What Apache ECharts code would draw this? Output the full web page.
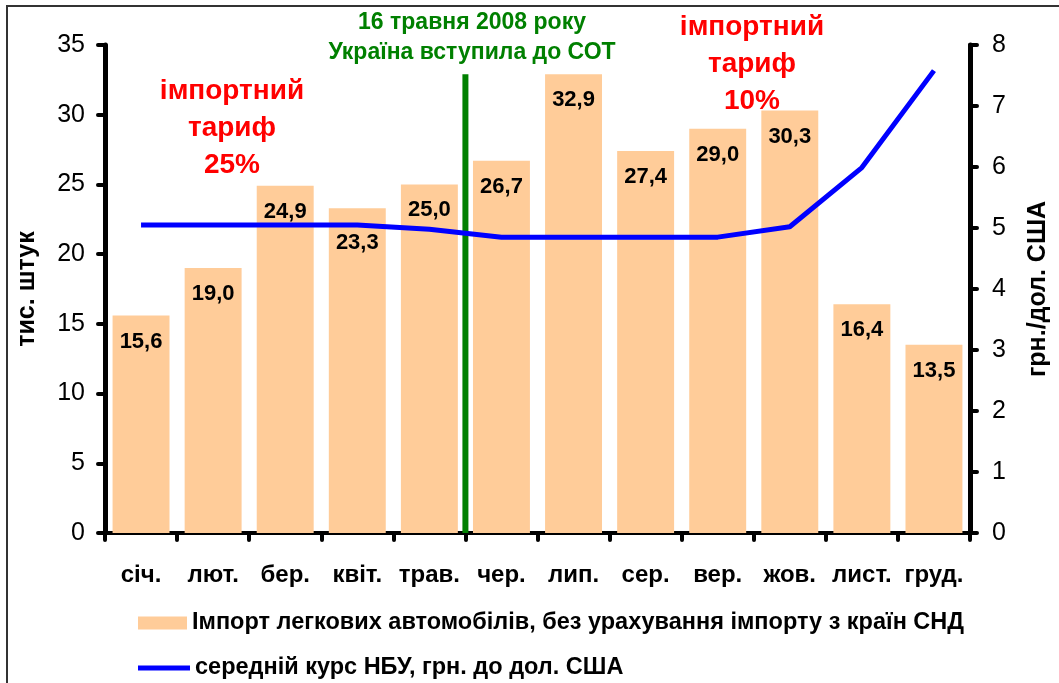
<!DOCTYPE html>
<html>
<head>
<meta charset="utf-8">
<script src="https://cdn.jsdelivr.net/npm/echarts@6/dist/echarts.min.js"></script>
<style>
  html, body { margin: 0; padding: 0; background: #fff; }
  #chart { width: 1059px; height: 683px; }
</style>
</head>
<body>
<div id="chart"></div>
<script>
// місяці 2008 року
var months = ['січ.', 'лют.', 'бер.', 'квіт.', 'трав.', 'чер.', 'лип.', 'сер.', 'вер.', 'жов.', 'лист.', 'груд.'];
// імпорт легкових автомобілів, тис. штук
var importCars = [15.6, 19.0, 24.9, 23.3, 25.0, 26.7, 32.9, 27.4, 29.0, 30.3, 16.4, 13.5];
// середній курс НБУ, грн./дол. США
var nbuRate = [5.05, 5.05, 5.05, 5.05, 4.98, 4.85, 4.85, 4.85, 4.85, 5.02, 5.99, 7.58];
// вертикальна лінія вступу до СОТ (межа трав./чер.)
var wtoLine = [[5, 0], [5, 32.9]];
var leftTicks = [0, 35, 5];
var rightTicks = [0, 8, 1];

var barName = 'Імпорт легкових автомобілів, без урахування імпорту з країн СНД';
var lineName = 'середній курс НБУ, грн. до дол. США';
var font = '"Liberation Sans", Arial, sans-serif';

// підпис 23,3 зсунутий нижче під лінію курсу
var barData = importCars.map(function (v, i) {
    return i === 3 ? { value: v, label: { distance: 24 } } : v;
});

var myChart = echarts.init(document.getElementById('chart'));
myChart.setOption({
    animation: false,
    textStyle: { fontFamily: font },
    grid: { left: 105, right: 86, top: 45, bottom: 150 },
    legend: [
        {
            left: 133,
            top: 606,
            itemWidth: 49,
            itemHeight: 13,
            textStyle: { fontSize: 23.5, fontWeight: 'bold', color: '#000', fontFamily: font },
            data: [{ name: barName, icon: 'rect' }]
        },
        {
            left: 133,
            top: 651,
            itemWidth: 52,
            itemHeight: 5,
            textStyle: { fontSize: 23.5, fontWeight: 'bold', color: '#000', fontFamily: font },
            data: [{ name: lineName, icon: 'rect' }]
        }
    ],
    xAxis: [
        {
            type: 'category',
            data: months,
            axisLine: { lineStyle: { color: '#000', width: 4 } },
            axisTick: { show: true, length: 7, lineStyle: { color: '#000', width: 4, cap: 'round' } },
            axisLabel: { color: '#000', fontSize: 24, fontWeight: 'bold', margin: 30, interval: 0 }
        },
        {
            // прихована вісь для лінії СОТ
            type: 'value', min: 0, max: 12, show: false
        }
    ],
    yAxis: [
        {
            type: 'value',
            min: leftTicks[0], max: leftTicks[1], interval: leftTicks[2],
            name: 'тис. штук',
            nameLocation: 'middle',
            nameRotate: 90,
            nameGap: 65,
            nameTextStyle: { fontSize: 25, fontWeight: 'bold', color: '#000' },
            splitLine: { show: false },
            axisLine: { show: true, lineStyle: { color: '#000', width: 5 } },
            axisTick: { show: true, length: 7, lineStyle: { color: '#000', width: 4, cap: 'round' } },
            axisLabel: { color: '#000', fontSize: 25, margin: 20 }
        },
        {
            type: 'value',
            min: rightTicks[0], max: rightTicks[1], interval: rightTicks[2],
            name: 'грн./дол. США',
            nameLocation: 'middle',
            nameRotate: 90,
            nameGap: 56,
            nameTextStyle: { fontSize: 25, fontWeight: 'bold', color: '#000' },
            splitLine: { show: false },
            axisLine: { show: true, lineStyle: { color: '#000', width: 5 } },
            axisTick: { show: true, length: 7, lineStyle: { color: '#000', width: 4, cap: 'round' } },
            axisLabel: { color: '#000', fontSize: 25, margin: 22 }
        }
    ],
    series: [
        {
            name: barName,
            type: 'bar',
            data: barData,
            barCategoryGap: '21%',
            itemStyle: { color: '#FFCC99' },
            label: {
                show: true,
                position: 'insideTop',
                distance: 15,
                fontSize: 22,
                fontWeight: 'bold',
                color: '#000',
                formatter: function (p) { return p.value.toFixed(1).replace('.', ','); }
            }
        },
        {
            type: 'line',
            xAxisIndex: 1,
            data: wtoLine,
            symbol: 'none',
            lineStyle: { color: '#008000', width: 6 },
            z: 3,
            silent: true
        },
        {
            name: lineName,
            type: 'line',
            yAxisIndex: 1,
            data: nbuRate,
            symbol: 'none',
            lineStyle: { color: '#0000FF', width: 5 },
            itemStyle: { color: '#0000FF' },
            z: 4
        }
    ],
    graphic: [
        {
            type: 'rect',
            shape: { x: 7, y: 6, width: 1100, height: 720 },
            style: { fill: 'none', stroke: '#333', lineWidth: 2 },
            silent: true
        },
        {
            type: 'text',
            style: { text: '16 травня 2008 року\nУкраїна вступила до СОТ', x: 472, y: 8, textAlign: 'center',
                fill: '#008000', font: 'bold 23px ' + font, lineHeight: 30 }
        },
        {
            type: 'text',
            style: { text: 'імпортний\nтариф\n25%', x: 232, y: 73, textAlign: 'center',
                fill: '#FF0000', font: 'bold 28px ' + font, lineHeight: 37 }
        },
        {
            type: 'text',
            style: { text: 'імпортний\nтариф\n10%', x: 752, y: 9, textAlign: 'center',
                fill: '#FF0000', font: 'bold 28px ' + font, lineHeight: 37 }
        }
    ]
});
</script>
</body>
</html>
